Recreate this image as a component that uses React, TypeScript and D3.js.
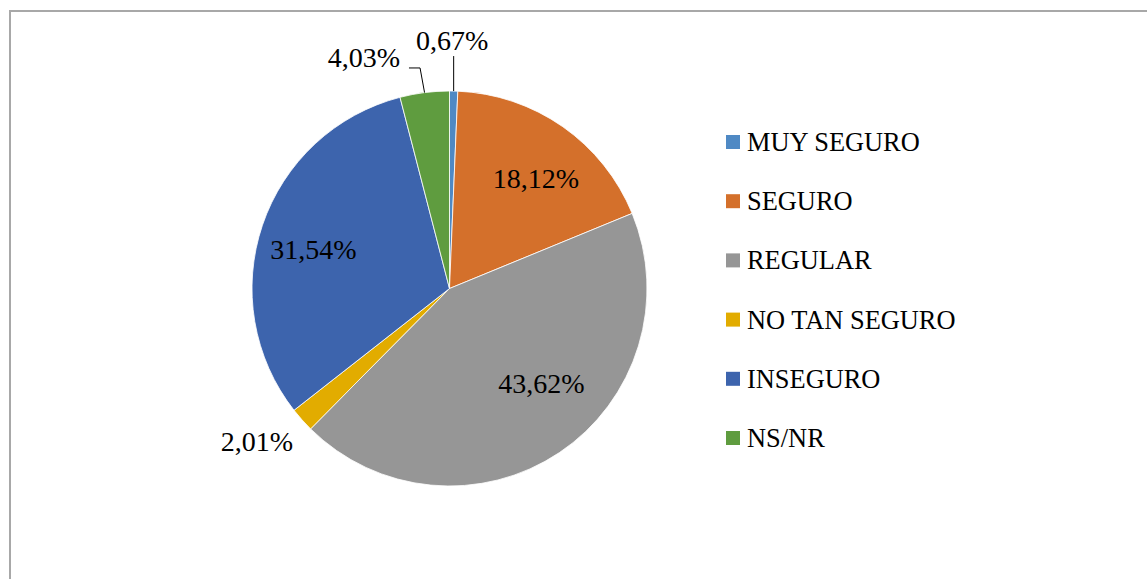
import React from "react";
import * as d3 from "d3";

const categories = ["MUY SEGURO", "SEGURO", "REGULAR", "NO TAN SEGURO", "INSEGURO", "NS/NR"];
const values = [0.67, 18.12, 43.62, 2.01, 31.54, 4.03];
const labels = ["0,67%", "18,12%", "43,62%", "2,01%", "31,54%", "4,03%"];
const colors = ["#4F89C4", "#D4702B", "#969696", "#E2AC00", "#3D64AD", "#5F9C3F"];

// label layout: angle offset from slice mid-angle (deg), radius factor, leader style
const labelAngleOffset = [-0.6, 3.0, -10.4, 3.3, -2.9, -13.1];
const labelRadiusFactor = [1.258, 0.71, 0.668, 1.244, 0.716, 1.245];
const labelLeader = ["vertical", "none", "none", "none", "none", "elbow"];

const W = 1147;
const H = 579;
const cx = 449.5;
const cy = 288.5;
const R = 197.5;
const font = "'Liberation Serif', 'Times New Roman', Times, serif";

export default function App() {
  const pie = d3.pie<number>().sort(null).value((d) => d)(values);
  const arc = d3.arc<d3.PieArcDatum<number>>().innerRadius(0).outerRadius(R);

  const legendY = d3.scaleLinear().domain([0, categories.length - 1]).range([142, 438]);

  return (
    <div style={{ position: "absolute", left: 0, top: 0 }}>
      <svg width={W} height={H} style={{ display: "block", background: "#fff" }}>
        <rect x={10} y={11} width={W + 20} height={H + 20} fill="#fff" stroke="#a8a8a8" strokeWidth={2} />
        <g transform={`translate(${cx},${cy})`}>
          {pie.map((p, i) => (
            <path key={i} d={arc(p) as string} fill={colors[i]} stroke="#fff" strokeWidth={0.8} />
          ))}
          {pie.map((p, i) => {
            const mid = (p.startAngle + p.endAngle) / 2;
            const a = mid + (labelAngleOffset[i] * Math.PI) / 180;
            const rr = labelRadiusFactor[i] * R;
            const lx = Math.sin(a) * rr;
            const ly = -Math.cos(a) * rr;
            const ex = Math.sin(mid) * R;
            const ey = -Math.cos(mid) * R;
            let leader: any = null;
            if (labelLeader[i] === "vertical") {
              leader = <line x1={ex} y1={ey} x2={ex} y2={ly + 16} stroke="#000" strokeWidth={1} />;
            } else if (labelLeader[i] === "elbow") {
              const rightEnd = lx + 37;
              leader = (
                <polyline
                  points={`${ex},${ey} ${ex - 4.5},${ly + 10} ${rightEnd + 8},${ly + 10}`}
                  fill="none"
                  stroke="#000"
                  strokeWidth={1}
                />
              );
            }
            return (
              <g key={"l" + i}>
                {leader}
                <text
                  x={lx}
                  y={ly}
                  textAnchor="middle"
                  dominantBaseline="central"
                  style={{ fontFamily: font, fontSize: "28px" }}
                  fill="#000"
                >
                  {labels[i]}
                </text>
              </g>
            );
          })}
        </g>
        <g>
          {categories.map((c, i) => (
            <g key={c} transform={`translate(726,${legendY(i)})`}>
              <rect x={0} y={-7} width={14} height={14} fill={colors[i]} />
              <text
                x={21}
                y={0}
                dominantBaseline="central"
                style={{ fontFamily: font, fontSize: "26.4px" }}
                fill="#000"
              >
                {c}
              </text>
            </g>
          ))}
        </g>
      </svg>
    </div>
  );
}
